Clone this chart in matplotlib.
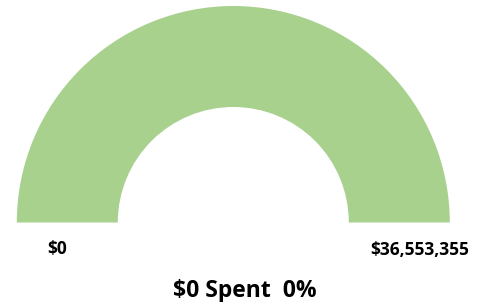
import matplotlib
matplotlib.use("Agg")
import matplotlib.pyplot as plt

# -------------------------
# Data
# -------------------------
SPENT = 0
BUDGET = 36553355
GAUGE_VALUES = [SPENT, BUDGET - SPENT, BUDGET]  # last slice = hidden lower half
GAUGE_COLORS = ["#4E7A2E", "#A9D18E", "none"]

MIN_LABEL = f"${0:,}"
MAX_LABEL = f"${BUDGET:,}"
TITLE = f"${SPENT:,} Spent  {SPENT / BUDGET:.0%}"

# -------------------------
# Plot
# -------------------------
W, H = 485, 302
fig = plt.figure(figsize=(W / 100, H / 100), dpi=100, facecolor="white")
ax = fig.add_axes([0, 0, 1, 1])

CX, CY = 233.3, H - 222.5
R_OUT, R_IN = 216.5, 115.5

ax.pie(
    GAUGE_VALUES,
    colors=GAUGE_COLORS,
    startangle=180,
    counterclock=False,
    center=(CX, CY),
    radius=R_OUT,
    wedgeprops=dict(width=R_OUT - R_IN, linewidth=0),
)

ax.set_xlim(0, W)
ax.set_ylim(0, H)
ax.set_aspect("equal")
ax.axis("off")

FONT = ["Open Sans", "DejaVu Sans"]
ax.text(57, H - 254.5, MIN_LABEL, ha="center", va="baseline",
        fontsize=12.5, fontweight="bold", family=FONT)
ax.text(420, H - 255, MAX_LABEL, ha="center", va="baseline",
        fontsize=12.5, fontweight="bold", family=FONT)
ax.text(245, H - 297, TITLE, ha="center", va="baseline",
        fontsize=16.5, fontweight="bold", family=FONT)

fig.savefig("out.png", dpi=100, facecolor="white")
